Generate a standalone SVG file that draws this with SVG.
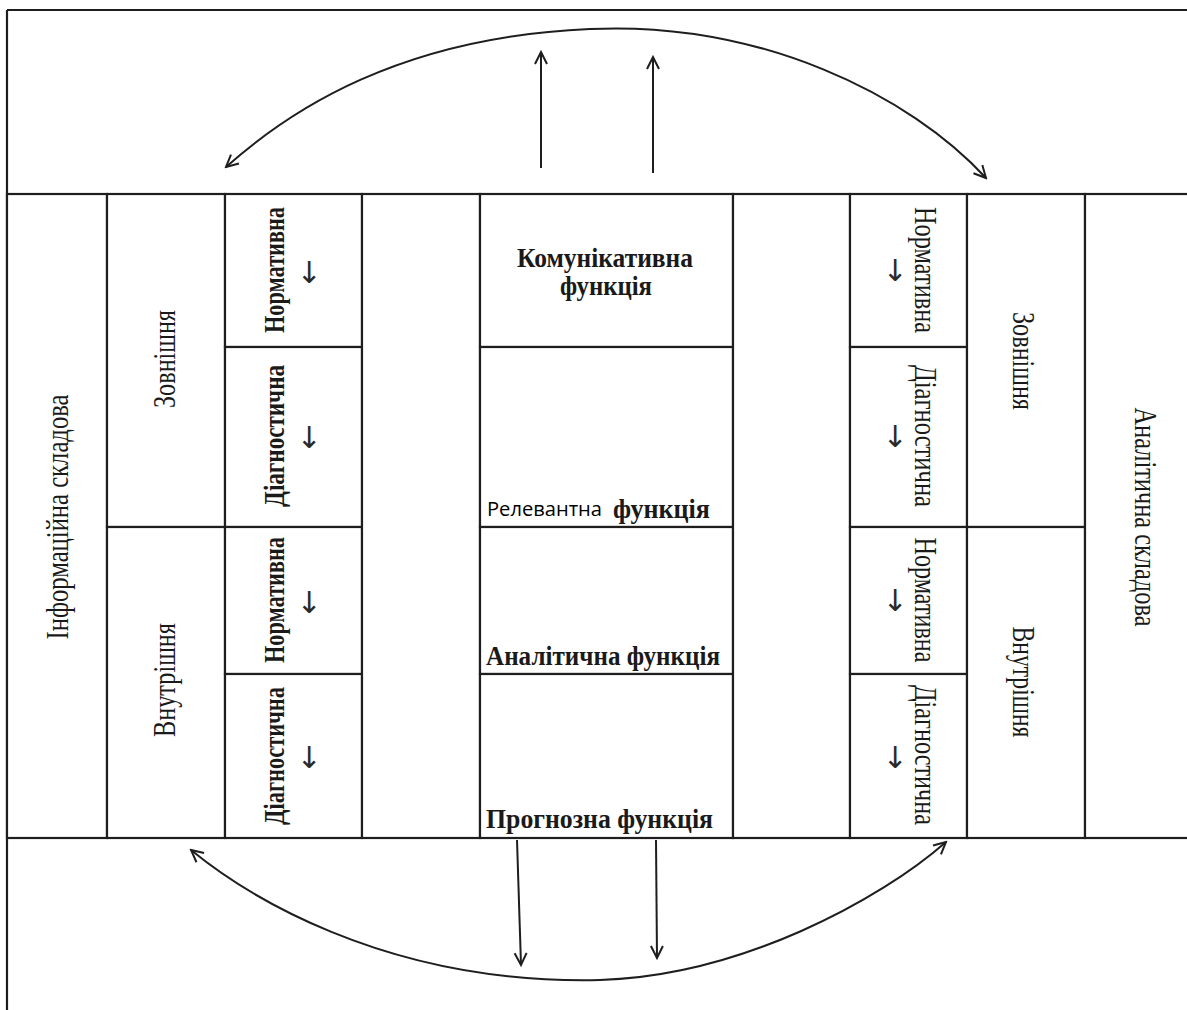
<svg xmlns="http://www.w3.org/2000/svg" width="1187" height="1010" viewBox="0 0 1187 1010">
  <style>
    .frame { stroke: #1e1e1e; stroke-width: 2.2; fill: none; }
    .cell { stroke: #1e1e1e; stroke-width: 2.2; fill: #ffffff; }
    .vt { font-family: "Liberation Serif", "DejaVu Serif", serif; font-size: 31px; fill: #1a1a1a; text-anchor: middle; dominant-baseline: central; }
    .bold { font-weight: bold; font-size: 30px; }
    .ht { font-family: "Liberation Serif", "DejaVu Serif", serif; font-size: 28px; font-weight: bold; fill: #1a1a1a; }
    .sans { font-family: "Open Sans", "Liberation Sans", sans-serif; font-size: 20px; fill: #000000; }
    .mark { font-family: "DejaVu Sans", "Liberation Sans", sans-serif; font-size: 30px; fill: #2a2a2a; text-anchor: middle; dominant-baseline: central; }
    .conn { stroke: #1e1e1e; stroke-width: 2; fill: none; }
  </style>
  <defs>
    <marker id="open-arrow" viewBox="0 0 16 16" refX="14" refY="8" markerWidth="16" markerHeight="16" markerUnits="userSpaceOnUse" orient="auto-start-reverse">
      <path d="M2,2 L14,8 L2,14" fill="none" stroke="#1e1e1e" stroke-width="2"/>
    </marker>
  </defs>

  <rect x="0" y="0" width="1187" height="1010" fill="#ffffff"/>

  <!-- outer frame and the two horizontal bands -->
  <g id="frame">
    <line class="frame" x1="7" y1="10" x2="1187" y2="10"/>
    <line class="frame" x1="7" y1="10" x2="7" y2="1010"/>
    <line class="frame" x1="7" y1="194" x2="1187" y2="194"/>
    <line class="frame" x1="7" y1="838" x2="1187" y2="838"/>
  </g>

  <!-- left block -->
  <g id="info-component">
    <rect class="cell" x="7" y="194" width="100" height="644"/>
    <text class="vt" transform="translate(57 517) rotate(-90)" textLength="245" lengthAdjust="spacingAndGlyphs">Інформаційна складова</text>
  </g>
  <g id="left-external">
    <rect class="cell" x="107" y="194" width="118" height="333"/>
    <text class="vt" transform="translate(164 359) rotate(-90)" textLength="98" lengthAdjust="spacingAndGlyphs">Зовнішня</text>
  </g>
  <g id="left-internal">
    <rect class="cell" x="107" y="527" width="118" height="311"/>
    <text class="vt" transform="translate(164 680) rotate(-90)" textLength="114" lengthAdjust="spacingAndGlyphs">Внутрішня</text>
  </g>
  <g id="left-normative-1">
    <rect class="cell" x="225" y="194" width="137" height="153"/>
    <text class="vt bold" transform="translate(273 270) rotate(-90)" textLength="126" lengthAdjust="spacingAndGlyphs">Нормативна</text>
    <text class="mark" x="309" y="272">↓</text>
  </g>
  <g id="left-diagnostic-1">
    <rect class="cell" x="225" y="347" width="137" height="180"/>
    <text class="vt bold" transform="translate(273 436) rotate(-90)" textLength="142" lengthAdjust="spacingAndGlyphs">Діагностична</text>
    <text class="mark" x="309" y="437">↓</text>
  </g>
  <g id="left-normative-2">
    <rect class="cell" x="225" y="527" width="137" height="147"/>
    <text class="vt bold" transform="translate(273 600) rotate(-90)" textLength="126" lengthAdjust="spacingAndGlyphs">Нормативна</text>
    <text class="mark" x="309" y="602">↓</text>
  </g>
  <g id="left-diagnostic-2">
    <rect class="cell" x="225" y="674" width="137" height="164"/>
    <text class="vt bold" transform="translate(273 756) rotate(-90)" textLength="138" lengthAdjust="spacingAndGlyphs">Діагностична</text>
    <text class="mark" x="309" y="757">↓</text>
  </g>
  <g id="left-gap">
    <rect class="cell" x="362" y="194" width="118" height="644"/>
  </g>

  <!-- central functions -->
  <g id="communicative">
    <rect class="cell" x="480" y="194" width="253" height="153"/>
    <text class="ht" x="517" y="267" textLength="176" lengthAdjust="spacingAndGlyphs">Комунікативна</text>
    <text class="ht" x="560" y="295" textLength="92" lengthAdjust="spacingAndGlyphs">функція</text>
  </g>
  <g id="relevant">
    <rect class="cell" x="480" y="347" width="253" height="180"/>
    <text class="sans" x="487" y="516" textLength="115" lengthAdjust="spacingAndGlyphs">Релевантна</text>
    <text class="ht" x="613" y="518" textLength="97" lengthAdjust="spacingAndGlyphs">функція</text>
  </g>
  <g id="analytical">
    <rect class="cell" x="480" y="527" width="253" height="147"/>
    <text class="ht" x="486" y="665" textLength="234" lengthAdjust="spacingAndGlyphs">Аналітична функція</text>
  </g>
  <g id="prognostic">
    <rect class="cell" x="480" y="674" width="253" height="164"/>
    <text class="ht" x="486" y="828" textLength="227" lengthAdjust="spacingAndGlyphs">Прогнозна функція</text>
  </g>
  <g id="right-gap">
    <rect class="cell" x="733" y="194" width="117" height="644"/>
  </g>

  <!-- right block -->
  <g id="right-normative-1">
    <rect class="cell" x="850" y="194" width="117" height="153"/>
    <text class="vt" transform="translate(925 270) rotate(90)" textLength="126" lengthAdjust="spacingAndGlyphs">Нормативна</text>
    <text class="mark" x="895" y="270">↓</text>
  </g>
  <g id="right-diagnostic-1">
    <rect class="cell" x="850" y="347" width="117" height="180"/>
    <text class="vt" transform="translate(925 436) rotate(90)" textLength="142" lengthAdjust="spacingAndGlyphs">Діагностична</text>
    <text class="mark" x="895" y="436">↓</text>
  </g>
  <g id="right-normative-2">
    <rect class="cell" x="850" y="527" width="117" height="147"/>
    <text class="vt" transform="translate(925 600) rotate(90)" textLength="125" lengthAdjust="spacingAndGlyphs">Нормативна</text>
    <text class="mark" x="895" y="600">↓</text>
  </g>
  <g id="right-diagnostic-2">
    <rect class="cell" x="850" y="674" width="117" height="164"/>
    <text class="vt" transform="translate(925 755) rotate(90)" textLength="140" lengthAdjust="spacingAndGlyphs">Діагностична</text>
    <text class="mark" x="895" y="757">↓</text>
  </g>
  <g id="right-external">
    <rect class="cell" x="967" y="194" width="118" height="333"/>
    <text class="vt" transform="translate(1023 361) rotate(90)" textLength="98" lengthAdjust="spacingAndGlyphs">Зовнішня</text>
  </g>
  <g id="right-internal">
    <rect class="cell" x="967" y="527" width="118" height="311"/>
    <text class="vt" transform="translate(1023 682) rotate(90)" textLength="111" lengthAdjust="spacingAndGlyphs">Внутрішня</text>
  </g>
  <g id="analytic-component">
    <rect class="cell" x="1085" y="194" width="110" height="644"/>
    <text class="vt" transform="translate(1145 517) rotate(90)" textLength="219" lengthAdjust="spacingAndGlyphs">Аналітична складова</text>
  </g>

  <!-- arrows linking the bands -->
  <g id="connectors">
    <path class="conn" d="M226,167 C290,110 400,37 590,29 C760,21 910,95 986,178" marker-start="url(#open-arrow)" marker-end="url(#open-arrow)"/>
    <line class="conn" x1="541" y1="168" x2="541" y2="52" marker-end="url(#open-arrow)"/>
    <line class="conn" x1="653" y1="173" x2="653" y2="57" marker-end="url(#open-arrow)"/>
    <path class="conn" d="M191,850 C240,890 380,985 600,980 C740,976 880,900 946,842" marker-start="url(#open-arrow)" marker-end="url(#open-arrow)"/>
    <line class="conn" x1="517" y1="840" x2="521" y2="965" marker-end="url(#open-arrow)"/>
    <line class="conn" x1="656" y1="840" x2="657" y2="958" marker-end="url(#open-arrow)"/>
  </g>
</svg>
